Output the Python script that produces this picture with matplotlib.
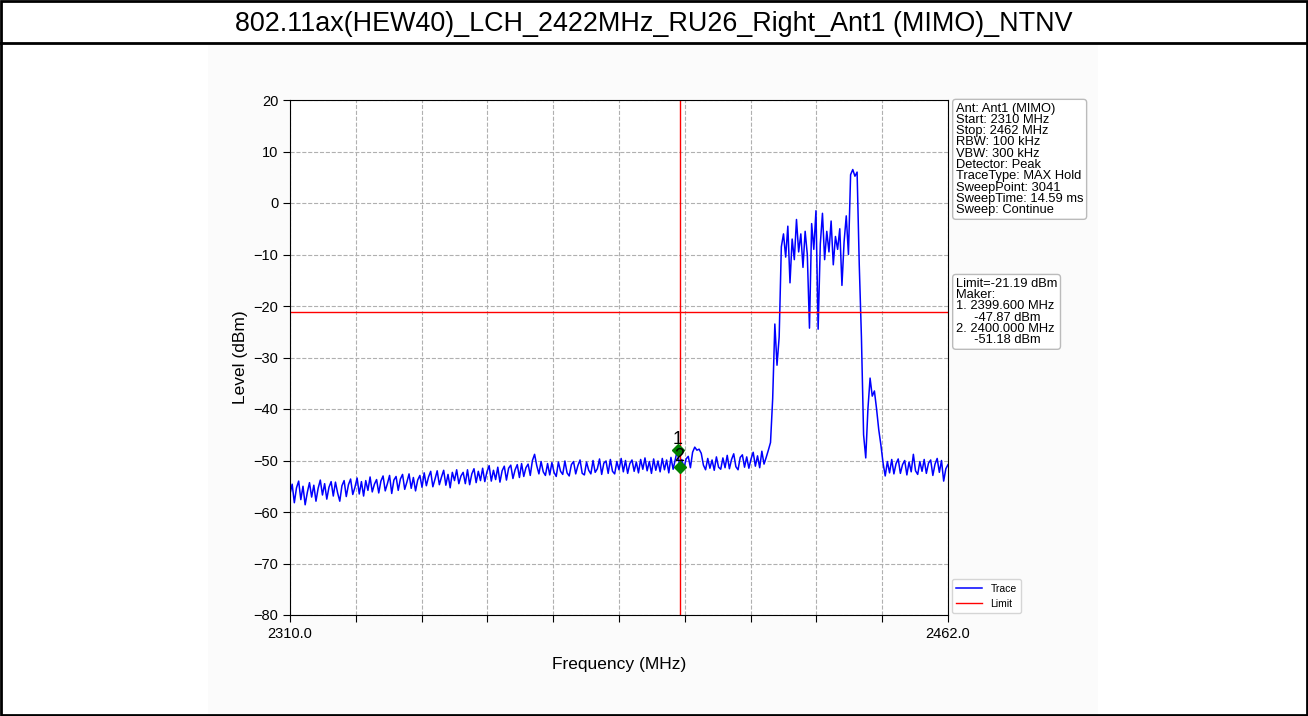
import numpy as np
import matplotlib.pyplot as plt
from matplotlib.patches import Rectangle
from matplotlib.lines import Line2D

plt.rcParams['font.family'] = ['Liberation Sans', 'DejaVu Sans']

title = "802.11ax(HEW40)_LCH_2422MHz_RU26_Right_Ant1 (MIMO)_NTNV"

f_start = 2310.0
f_stop = 2462.0
f_step = 0.5

# trace levels (dBm), one every 0.5 MHz from 2310 to 2462 MHz
level = [
    -56.5, -54.6, -58.2, -55.3, -54.0, -57.6, -55.0, -58.6, -56.2, -54.3,
    -57.1, -54.8, -57.9, -55.4, -53.8, -56.7, -54.5, -57.5, -55.2, -54.1,
    -56.9, -54.2, -56.3, -57.9, -54.9, -53.9, -57.0, -54.7, -53.6, -56.6,
    -55.2, -53.4, -56.5, -54.1, -56.9, -53.9, -55.8, -53.2, -56.1, -54.6,
    -53.7, -56.3, -54.0, -53.0, -55.9, -54.5, -52.9, -56.4, -53.8, -53.1,
    -55.8, -53.6, -52.7, -55.6, -54.2, -52.6, -55.4, -53.3, -55.9, -53.8,
    -52.9, -55.2, -52.4, -54.9, -53.2, -52.1, -55.1, -53.6, -52.0, -54.7,
    -53.2, -51.9, -54.8, -52.7, -55.3, -52.3, -53.9, -51.8, -54.5, -53.0,
    -52.3, -54.5, -51.8, -54.7, -52.6, -51.6, -54.3, -52.1, -53.9, -51.5,
    -54.1, -52.2, -51.0, -54.0, -51.9, -53.7, -51.3, -54.2, -52.0, -51.1,
    -53.8, -51.5, -50.9, -53.5, -51.8, -50.8, -53.3, -50.6, -53.1, -51.4,
    -50.7, -52.9, -50.0, -48.8, -51.0, -52.6, -50.2, -52.2, -52.9, -50.6,
    -52.8, -50.4, -52.3, -53.1, -50.3, -52.1, -52.7, -50.1, -52.4, -53.0,
    -50.8, -50.2, -52.6, -51.0, -49.9, -52.5, -52.8, -50.3, -51.9, -52.6,
    -50.0, -52.3, -51.6, -49.7, -52.7, -50.5, -50.1, -52.5, -49.8, -52.1,
    -52.6, -50.2, -51.8, -49.6, -52.2, -50.0, -52.5, -50.6, -49.9, -52.1,
    -50.3, -52.4, -49.8, -51.7, -49.5, -52.0, -50.2, -52.5, -49.7, -51.9,
    -50.1, -52.2, -49.6, -51.8, -49.9, -52.4, -49.4, -51.7, -49.8, -47.9,
    -51.2, -49.8, -51.5, -49.7, -49.2, -51.4, -48.4, -47.4, -48.0, -47.8,
    -48.6, -50.9, -51.8, -49.6, -51.5, -49.9, -51.9, -49.3, -51.3, -51.7,
    -49.5, -51.4, -49.0, -51.6, -49.8, -48.7, -51.2, -51.8, -49.4, -48.9,
    -51.3, -49.3, -51.5, -49.7, -48.4, -51.1, -49.1, -51.4, -48.2, -50.7,
    -49.4, -48.0, -46.5, -38.0, -23.5, -31.5, -26.0, -8.5, -6.0, -10.5,
    -4.5, -15.5, -7.0, -11.0, -3.2, -9.5, -6.0, -12.5, -5.5, -10.0,
    -24.3, -4.0, -9.0, -1.5, -24.5, -8.0, -2.0, -11.0, -5.5, -9.5,
    -3.5, -12.0, -6.5, -9.0, -5.0, -16.0, -7.5, -2.5, -10.0, 5.5,
    6.5, 5.2, 6.0, -12.0, -26.0, -45.0, -49.5, -40.0, -34.0, -37.5,
    -36.5, -40.0, -44.0, -47.0, -50.5, -53.0, -50.2, -52.4, -49.8, -52.6,
    -50.6, -49.7, -52.5, -50.8, -50.0, -52.8, -50.3, -52.2, -48.8, -52.0,
    -52.7, -50.2, -52.1, -49.8, -52.5, -50.5, -49.9, -52.9, -50.7, -49.6,
    -52.3, -50.0, -54.0, -51.6, -50.8,
]

limit = -21.19
marker_freq = [2399.6, 2400.0]
marker_level = [-47.87, -51.18]
marker_name = ["1", "2"]

info_lines = [
    "Ant: Ant1 (MIMO)",
    "Start: 2310 MHz",
    "Stop: 2462 MHz",
    "RBW: 100 kHz",
    "VBW: 300 kHz",
    "Detector: Peak",
    "TraceType: MAX Hold",
    "SweepPoint: 3041",
    "SweepTime: 14.59 ms",
    "Sweep: Continue",
]
marker_lines = [
    "Limit=-21.19 dBm",
    "Maker:",
    "1. 2399.600 MHz",
    "     -47.87 dBm",
    "2. 2400.000 MHz",
    "     -51.18 dBm",
]

freq = np.arange(len(level)) * f_step + f_start

fig = plt.figure(figsize=(13.08, 7.16), dpi=100)

# page frame and title row
fig.add_artist(Rectangle((208 / 1308, 0), 890 / 1308, 672 / 716, transform=fig.transFigure,
                         facecolor='#fbfbfb', edgecolor='none', zorder=-5))
fig.add_artist(Rectangle((0.001, 0.001), 0.998, 0.997, transform=fig.transFigure,
                         fill=False, edgecolor='black', linewidth=2, zorder=5))
fig.add_artist(Line2D([0, 1], [1 - 43 / 716] * 2, transform=fig.transFigure, color='black', linewidth=2))
fig.text(0.5, 1 - 24 / 716, title, ha='center', va='center', fontsize=19.4)

ax = fig.add_axes([290 / 1308, 101 / 716, 658 / 1308, 515 / 716])
ax.plot(freq, level, color='blue', linewidth=1.1, label='Trace')
ax.axhline(limit, color='red', linewidth=1, label='Limit')
ax.axvline(marker_freq[1], color='red', linewidth=1)
ax.plot(marker_freq, marker_level, linestyle='none', marker='D', color='green', markersize=6)
for fx, lv, name in zip(marker_freq, marker_level, marker_name):
    ax.annotate(name, (fx, lv), xytext=(0, 1), textcoords='offset points',
                ha='center', va='bottom', fontsize=13, zorder=6)

ax.set_xlim(f_start, f_stop)
ax.set_ylim(-80, 20)
xt = np.linspace(f_start, f_stop, 11)
ax.set_xticks(xt)
ax.set_xticklabels(['2310.0'] + [''] * 9 + ['2462.0'])
ax.set_yticks(np.arange(-80, 21, 10))
ax.tick_params(labelsize=10.5, length=5)
ax.grid(True, linestyle='--', color='#b0b0b0', linewidth=0.8)
ax.set_xlabel('Frequency (MHz)', fontsize=12.5, labelpad=12)
ax.set_ylabel('Level (dBm)', fontsize=12.5)

box = dict(boxstyle='round,pad=0.25', facecolor='white', edgecolor='#bbbbbb')
ax.text(1.012, 0.995, "\n".join(info_lines), transform=ax.transAxes, va='top', ha='left',
        fontsize=9.3, linespacing=0.92, bbox=box)
ax.text(1.012, 0.655, "\n".join(marker_lines), transform=ax.transAxes, va='top', ha='left',
        fontsize=9.3, linespacing=0.92, bbox=box)

ax.legend(loc='lower left', bbox_to_anchor=(1.003, 0.0), fontsize=7.5, handlelength=2.5, borderaxespad=0.2)

fig.savefig('out.png', dpi=100)
